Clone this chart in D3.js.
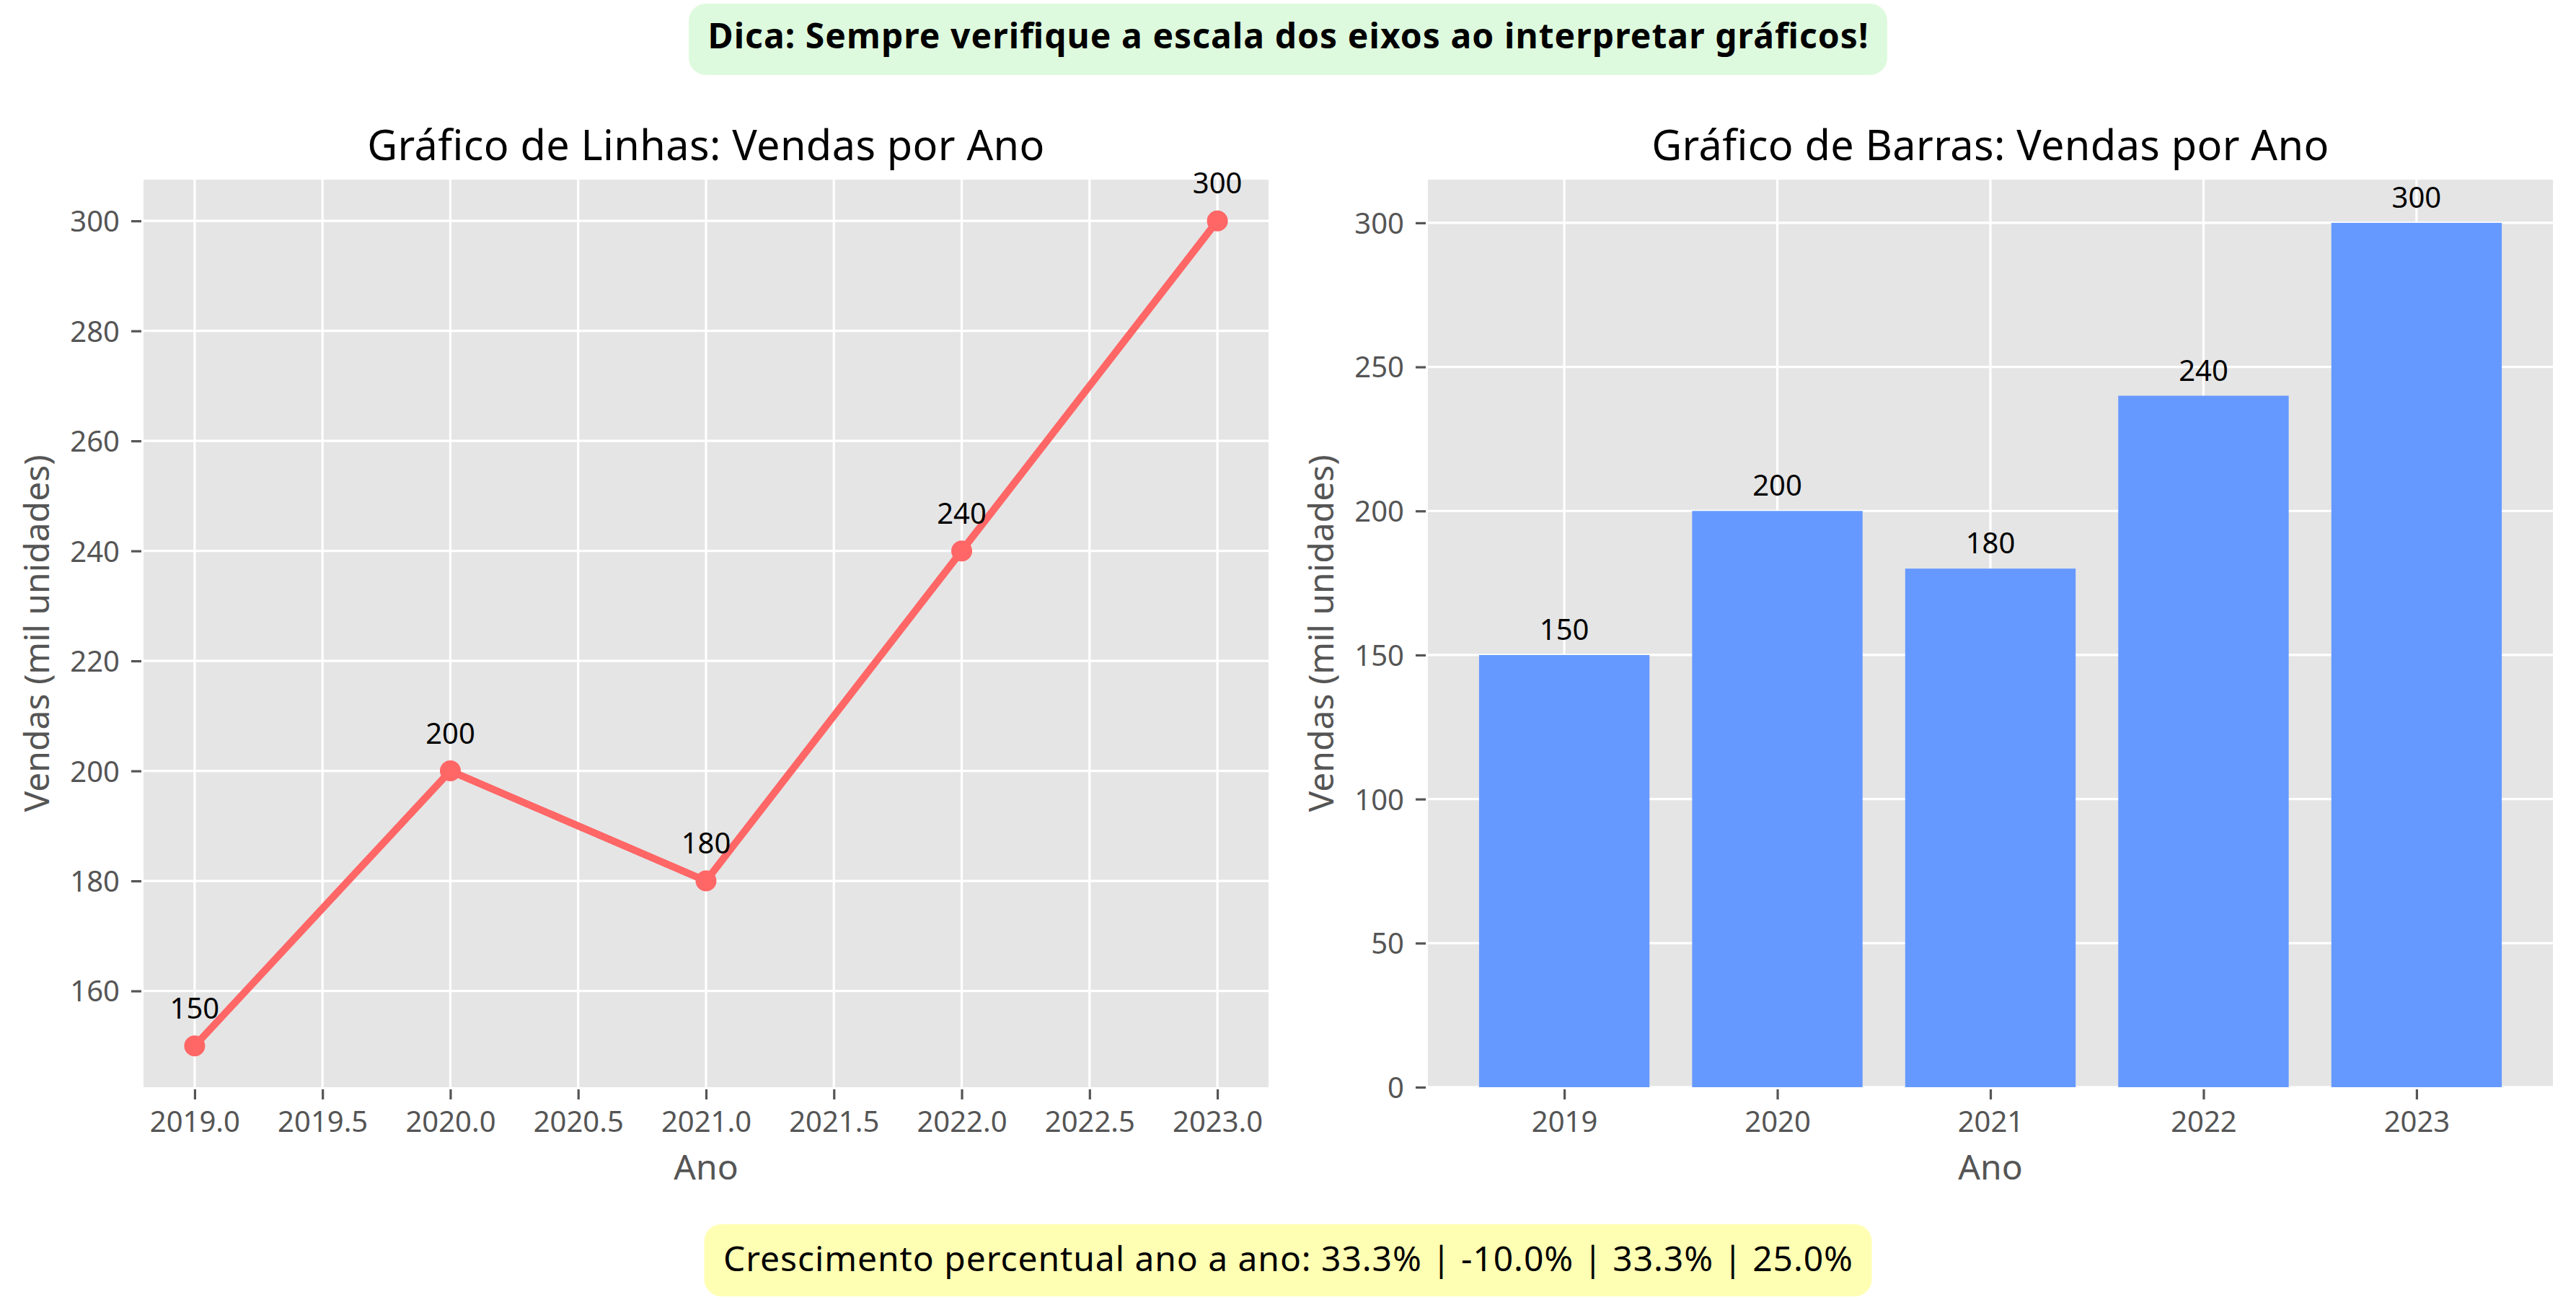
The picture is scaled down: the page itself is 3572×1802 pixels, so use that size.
<!DOCTYPE html>
<html>
<head>
<meta charset="utf-8">
<script src="https://cdn.jsdelivr.net/npm/d3@7"></script>
<style>
  html, body { margin: 0; padding: 0; background: #ffffff; }
  svg { display: block; }
  text { font-family: "Noto Sans", "Open Sans", sans-serif; }
</style>
</head>
<body>
<script>
// ---- data ----
const anos = [2019, 2020, 2021, 2022, 2023];
const vendas = [150, 200, 180, 240, 300];
const lineYTicks = [160, 180, 200, 220, 240, 260, 280, 300];
const lineXTicks = [2019.0, 2019.5, 2020.0, 2020.5, 2021.0, 2021.5, 2022.0, 2022.5, 2023.0];
const barYTicks = [0, 50, 100, 150, 200, 250, 300];
const crescimento = ["33.3%", "-10.0%", "33.3%", "25.0%"];
const tituloLinhas = "Gráfico de Linhas: Vendas por Ano";
const tituloBarras = "Gráfico de Barras: Vendas por Ano";
const rotuloX = "Ano";
const rotuloY = "Vendas (mil unidades)";
const dica = "Dica: Sempre verifique a escala dos eixos ao interpretar gráficos!";
const crescTexto = "Crescimento percentual ano a ano: " + crescimento.join(" | ");

// ---- setup ----
const W = 3572, H = 1802;
const FONT = '"Noto Sans", "Open Sans", sans-serif';
const svg = d3.select("body").append("svg").attr("width", W).attr("height", H);
svg.append("rect").attr("width", W).attr("height", H).attr("fill", "#ffffff");

const pTop = 249, pBottom = 1507;
const panelBg = "#E5E5E5", gridCol = "#ffffff", tickCol = "#555555";
const lineCol = "#FF6666", barCol = "#6699FF";

function drawPanel(g, x0, x1) {
  g.append("rect").attr("x", x0).attr("y", pTop).attr("width", x1 - x0)
    .attr("height", pBottom - pTop).attr("fill", panelBg);
}

function styleAxis(ax) {
  ax.select(".domain").remove();
  ax.selectAll(".tick line").attr("stroke", tickCol).attr("stroke-width", 3.2);
  ax.selectAll(".tick text").attr("fill", tickCol).attr("font-size", 40)
    .attr("font-family", FONT);
}

// ---- left: line chart ----
const L = { x0: 199, x1: 1759 };
const xL = d3.scaleLinear().domain([2018.8, 2023.2]).range([L.x0, L.x1]);
const yL = d3.scaleLinear().domain([142.5, 307.5]).range([pBottom, pTop]);
const gL = svg.append("g");
drawPanel(gL, L.x0, L.x1);

gL.append("g").selectAll("line").data(lineXTicks).join("line")
  .attr("x1", d => xL(d)).attr("x2", d => xL(d)).attr("y1", pTop).attr("y2", pBottom)
  .attr("stroke", gridCol).attr("stroke-width", 3.2);
gL.append("g").selectAll("line").data(lineYTicks).join("line")
  .attr("x1", L.x0).attr("x2", L.x1).attr("y1", d => yL(d)).attr("y2", d => yL(d))
  .attr("stroke", gridCol).attr("stroke-width", 3.2);

const axLx = gL.append("g").attr("transform", `translate(0,${pBottom + 3})`)
  .call(d3.axisBottom(xL).tickValues(lineXTicks).tickFormat(d3.format(".1f")).tickSizeInner(14).tickPadding(14));
styleAxis(axLx);
axLx.selectAll(".tick text").attr("dy", null).attr("y", 59);
const axLy = gL.append("g").attr("transform", `translate(${L.x0 - 3},0)`)
  .call(d3.axisLeft(yL).tickValues(lineYTicks).tickFormat(d3.format("d")).tickSizeInner(14).tickPadding(16));
styleAxis(axLy);
axLy.selectAll(".tick text").attr("dy", "0.36em");

const pts = anos.map((a, i) => ({ a, v: vendas[i] }));
gL.append("path").datum(pts)
  .attr("d", d3.line().x(d => xL(d.a)).y(d => yL(d.v)))
  .attr("fill", "none").attr("stroke", lineCol).attr("stroke-width", 10)
  .attr("stroke-linejoin", "round").attr("stroke-linecap", "butt");
gL.append("g").selectAll("circle").data(pts).join("circle")
  .attr("cx", d => xL(d.a)).attr("cy", d => yL(d.v)).attr("r", 14.5).attr("fill", lineCol);
gL.append("g").selectAll("text").data(pts).join("text")
  .attr("x", d => xL(d.a)).attr("y", d => yL(d.v) - 38)
  .attr("text-anchor", "middle").attr("font-size", 40).attr("fill", "#000")
  .text(d => d.v);

gL.append("text").attr("x", (L.x0 + L.x1) / 2).attr("y", 222).attr("text-anchor", "middle")
  .attr("font-size", 57.6).attr("letter-spacing", 0.4).attr("fill", "#000").text(tituloLinhas);
gL.append("text").attr("x", (L.x0 + L.x1) / 2).attr("y", 1635).attr("text-anchor", "middle")
  .attr("font-size", 48).attr("fill", tickCol).text(rotuloX);
gL.append("text").attr("transform", `translate(68,${(pTop + pBottom) / 2}) rotate(-90)`)
  .attr("text-anchor", "middle").attr("font-size", 48).attr("fill", tickCol).text(rotuloY);

// ---- right: bar chart ----
const R = { x0: 1980, x1: 3540 };
const xR = d3.scaleLinear().domain([-0.64, 4.64]).range([R.x0, R.x1]);
const yR = d3.scaleLinear().domain([0, 315]).range([pBottom, pTop]);
const gR = svg.append("g");
drawPanel(gR, R.x0, R.x1);
const idx = anos.map((a, i) => i);
gR.append("g").selectAll("line").data(idx).join("line")
  .attr("x1", d => xR(d)).attr("x2", d => xR(d)).attr("y1", pTop).attr("y2", pBottom)
  .attr("stroke", gridCol).attr("stroke-width", 3.2);
gR.append("g").selectAll("line").data(barYTicks).join("line")
  .attr("x1", R.x0).attr("x2", R.x1).attr("y1", d => yR(d)).attr("y2", d => yR(d))
  .attr("stroke", gridCol).attr("stroke-width", 3.2);

const axRx = gR.append("g").attr("transform", `translate(0,${pBottom + 3})`)
  .call(d3.axisBottom(xR).tickValues(idx).tickFormat(i => anos[i]).tickSizeInner(14).tickPadding(14));
styleAxis(axRx);
axRx.selectAll(".tick text").attr("dy", null).attr("y", 59);
const axRy = gR.append("g").attr("transform", `translate(${R.x0 - 3},0)`)
  .call(d3.axisLeft(yR).tickValues(barYTicks).tickFormat(d3.format("d")).tickSizeInner(14).tickPadding(16));
styleAxis(axRy);
axRy.selectAll(".tick text").attr("dy", "0.36em");

const bw = 0.8;
gR.append("g").selectAll("rect").data(pts).join("rect")
  .attr("x", (d, i) => xR(i - bw / 2)).attr("width", (d, i) => xR(i + bw / 2) - xR(i - bw / 2))
  .attr("y", d => yR(d.v)).attr("height", d => yR(0) - yR(d.v)).attr("fill", barCol);
gR.append("g").selectAll("text").data(pts).join("text")
  .attr("x", (d, i) => xR(i)).attr("y", d => yR(d.v) - 21)
  .attr("text-anchor", "middle").attr("font-size", 40).attr("fill", "#000").text(d => d.v);

gR.append("text").attr("x", (R.x0 + R.x1) / 2).attr("y", 222).attr("text-anchor", "middle")
  .attr("font-size", 57.6).attr("letter-spacing", 0.4).attr("fill", "#000").text(tituloBarras);
gR.append("text").attr("x", (R.x0 + R.x1) / 2).attr("y", 1635).attr("text-anchor", "middle")
  .attr("font-size", 48).attr("fill", tickCol).text(rotuloX);
gR.append("text").attr("transform", `translate(1849,${(pTop + pBottom) / 2}) rotate(-90)`)
  .attr("text-anchor", "middle").attr("font-size", 48).attr("fill", tickCol).text(rotuloY);

// ---- annotation boxes ----
function box(text, y0, y1, baseline, fill, bold, textW, boxW) {
  const g = svg.append("g");
  g.append("rect").attr("fill", fill)
    .attr("x", W / 2 - boxW / 2).attr("y", y0).attr("width", boxW)
    .attr("height", y1 - y0).attr("rx", 24).attr("ry", 24);
  g.append("text").attr("x", W / 2).attr("y", baseline).attr("text-anchor", "middle")
    .attr("font-size", 48).attr("font-weight", bold ? "bold" : "normal").attr("fill", "#000")
    .attr("textLength", textW).attr("lengthAdjust", "spacing").text(text);
}
box(dica, 5, 104, 67, "#DEFADE", true, 1609, 1662);
box(crescTexto, 1697, 1797, 1762, "#FFFFB3", false, 1566, 1619);
</script>
</body>
</html>
